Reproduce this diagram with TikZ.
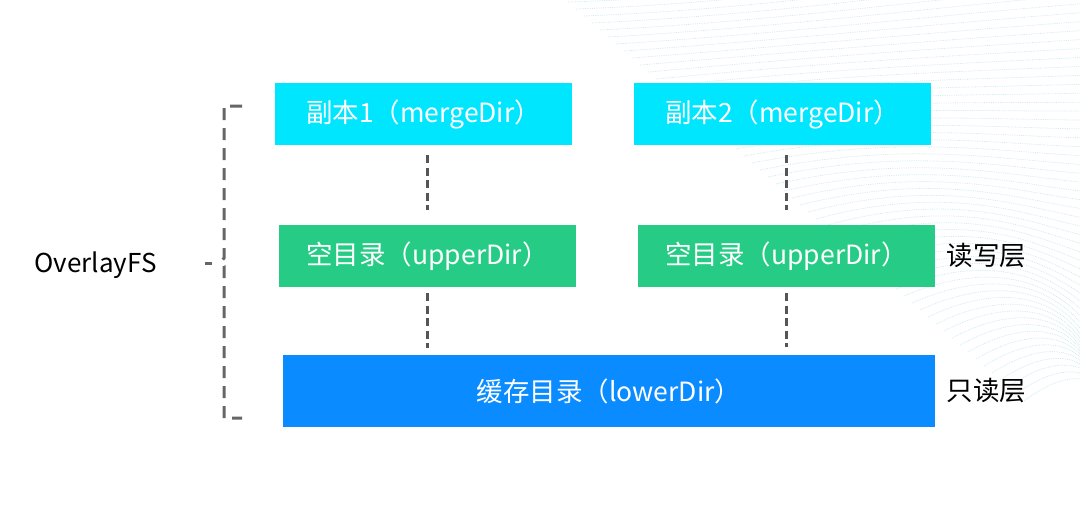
\documentclass[tikz,border=0pt]{standalone}
\usepackage{fontspec}
\setmainfont{Noto Sans CJK SC}
\usetikzlibrary{positioning}
\definecolor{mergecyan}{HTML}{00E6FF}
\definecolor{uppergreen}{HTML}{26CC85}
\definecolor{lowerblue}{HTML}{0A8BFF}
\definecolor{linkgray}{HTML}{555555}
\definecolor{wavecolor}{HTML}{BFE2EC}
\begin{document}
\begin{tikzpicture}[x=1pt, y=-1pt,
    dirbox/.style={rectangle, inner sep=0pt, minimum width=297pt, minimum height=62pt,
      text=white, font=\fontsize{26.5}{30}\selectfont},
    link/.style={draw=linkgray, line width=2.6pt, dash pattern=on 8pt off 4.5pt},
    brace/.style={draw=linkgray!90, line width=3pt, dash pattern=on 12pt off 8pt},
    wave/.style={draw=wavecolor, line width=0.8pt, densely dotted}]
  \useasboundingbox (0,0) rectangle (1080,509);
  %
  \foreach \i in {0,...,58}
    \draw[wave, opacity=0.75] (560+8*\i, -5+7*\i) .. controls (760+6*\i, -10+6*\i) and (900+4*\i, -40+8*\i) .. (1090, -60+9*\i);
  %
  \node[dirbox, fill=mergecyan] (m1) at (423.5,114) {副本1（mergeDir）};
  \node[dirbox, fill=mergecyan] (m2) at (782.5,114) {副本2（mergeDir）};
  \node[dirbox, fill=uppergreen] (u1) at (427.5,256) {空目录（upperDir）};
  \node[dirbox, fill=uppergreen] (u2) at (786.5,256) {空目录（upperDir）};
  \node[dirbox, fill=lowerblue, minimum width=652pt, minimum height=72pt] (low) at (609,391) {缓存目录（lowerDir）};
  %
  \node[anchor=west, font=\fontsize{26.5}{30}\selectfont] (rw) at (943,256) {读写层};
  \node[anchor=west, font=\fontsize{26.5}{30}\selectfont] (ro) at (943,391) {只读层};
  \node[anchor=west, font=\fontsize{26}{30}\selectfont] (ofs) at (31,265) {OverlayFS};
  %
  \draw[link, shorten <=10pt, shorten >=15pt] (m1.south -| u1) -- (u1.north);
  \draw[link, shorten <=10pt, shorten >=15pt] (m2.south -| u2) -- (u2.north);
  \draw[link, shorten <=6pt, shorten >=7pt] (u1.south) -- (u1.south |- low.north);
  \draw[link, shorten <=6pt, shorten >=8pt] (u2.south) -- (u2.south |- low.north);
  %
  \draw[brace] (242,106) -- (224,106) -- (224,258) -- (221,262) -- (224,266) -- (224,418) -- (242,418);
  \draw[draw=linkgray!90, line width=3pt] (205,263) -- (212,263);
  %
\end{tikzpicture}
\end{document}
